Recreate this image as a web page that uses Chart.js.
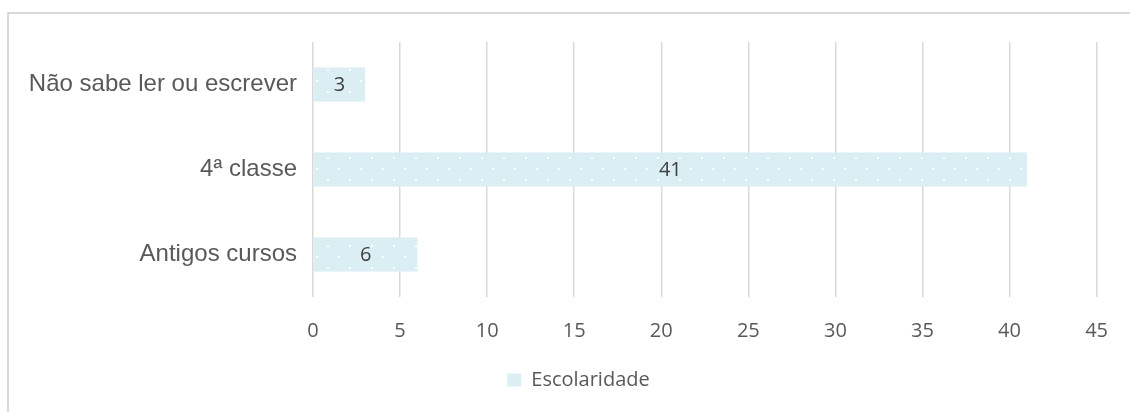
<!DOCTYPE html>
<html>
<head>
<meta charset="utf-8">
<script src="https://cdn.jsdelivr.net/npm/chart.js@4/dist/chart.umd.min.js"></script>
<style>
  html, body { margin: 0; padding: 0; background: #fff; overflow: hidden; }
  #frame {
    position: absolute; left: 7px; top: 12px; width: 1200px; height: 500px;
    border-left: 2px solid #d9d9d9; border-top: 2px solid #d9d9d9;
  }
  #wrap { position: absolute; left: 0; top: 0; width: 1130px; height: 412px; }
</style>
</head>
<body>
<div id="frame"></div>
<div id="wrap"><canvas id="grafico" width="1130" height="412"></canvas></div>
<script>
// Dados
const categorias = ['Não sabe ler ou escrever', '4ª classe', 'Antigos cursos'];
const valores = [3, 41, 6];
const serieNome = 'Escolaridade';
const ticksX = [0, 5, 10, 15, 20, 25, 30, 35, 40, 45];

// Padrão de pontos brancos sobre azul claro
function criarPadrao() {
    const c = document.createElement('canvas');
    c.width = 22; c.height = 22;
    const p = c.getContext('2d');
    p.fillStyle = '#daeef3';
    p.fillRect(0, 0, 22, 22);
    p.fillStyle = '#ffffff';
    p.fillRect(19, 3, 2, 2);
    p.fillRect(8, 14, 2, 2);
    return p.createPattern(c, 'repeat');
}

// Rótulos de dados no centro das barras
const rotulos = {
    id: 'rotulos',
    afterLayout(chart) {
        // legenda um pouco à direita, como no original
        chart.legend.left += 27;
        chart.legend.right += 27;
    },
    afterDatasetsDraw(chart) {
        const ctx = chart.ctx;
        const meta = chart.getDatasetMeta(0);
        ctx.save();
        ctx.fillStyle = '#404040';
        ctx.font = '20px "Open Sans"';
        ctx.textAlign = 'center';
        ctx.textBaseline = 'middle';
        meta.data.forEach((bar, i) => {
            ctx.fillText(String(valores[i]), (bar.x + bar.base) / 2, bar.y + 1);
        });
        ctx.restore();
    }
};

const ctx = document.getElementById('grafico').getContext('2d');
const grafico = new Chart(ctx, {
    type: 'bar',
    data: {
        labels: categorias,
        datasets: [{
            label: serieNome,
            data: valores,
            backgroundColor: criarPadrao(),
            borderWidth: 0,
            barPercentage: 0.8,
            categoryPercentage: 0.5
        }]
    },
    options: {
        indexAxis: 'y',
        responsive: false,
        animation: false,
        layout: { padding: { left: 0, right: 27, top: 42, bottom: 12 } },
        plugins: {
            legend: {
                position: 'bottom',
                labels: {
                    boxWidth: 14,
                    boxHeight: 13,
                    padding: 10,
                    color: '#595959',
                    font: { family: 'Open Sans', size: 20 },
                    generateLabels(chart) {
                        return [{
                            text: serieNome,
                            fillStyle: '#daeef3',
                            strokeStyle: '#daeef3',
                            fontColor: '#595959',
                            lineWidth: 0,
                            datasetIndex: 0
                        }];
                    }
                }
            },
            tooltip: { enabled: false }
        },
        scales: {
            x: {
                min: 0,
                max: 45,
                afterBuildTicks(scale) {
                    scale.ticks = ticksX.map(v => ({ value: v }));
                },
                afterFit(scale) { scale.height = 63; },
                grid: { color: '#d9d9d9', lineWidth: 1.5, drawTicks: false },
                border: { display: false },
                ticks: {
                    padding: 22,
                    color: '#595959',
                    font: { family: 'Open Sans', size: 20 }
                }
            },
            y: {
                afterFit(scale) { scale.width = 313; },
                grid: { display: false, drawTicks: false },
                border: { display: false },
                ticks: {
                    padding: 16,
                    color: '#595959',
                    font: { family: 'Liberation Sans', size: 24 }
                }
            }
        }
    },
    plugins: [rotulos]
});
</script>
</body>
</html>
